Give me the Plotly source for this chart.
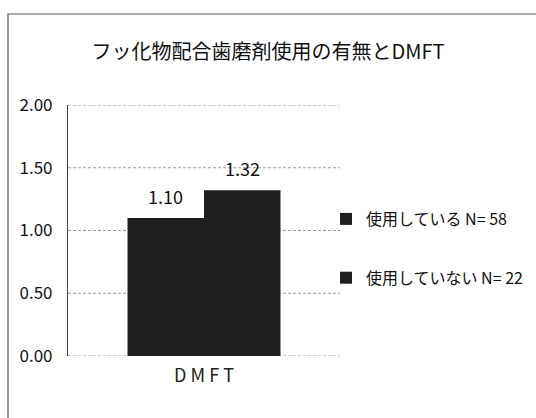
import plotly.graph_objects as go

# DMFT by fluoride toothpaste use
categories = ["DMFT"]
series_names = ["使用している N= 58", "使用していない N= 22"]
series_values = [[1.10], [1.32]]
y_ticks = [0.0, 0.5, 1.0, 1.5, 2.0]
y_tick_labels = ["0.00", "0.50", "1.00", "1.50", "2.00"]
title_text = "フッ化物配合歯磨剤使用の有無とDMFT"

FONT = "Noto Sans CJK JP"
BAR_COLOR = "#1e1e1e"
GRID_COLOR = "#9a9a9a"

W, H = 536, 418
L, R, T, B = 68, 196, 105, 62
PW, PH = W - L - R, H - T - B
BARGAP = 0.4375
N_SERIES = len(series_values)
BAR_PX = PW * (1 - BARGAP) / N_SERIES  # width of one bar in pixels


def px_to_paper_x(px):
    return (px - L) / PW


def px_to_paper_y(py):
    return (H - B - py) / PH


fig = go.Figure()
for i, (name, vals) in enumerate(zip(series_names, series_values)):
    fig.add_trace(go.Bar(
        x=categories,
        y=vals,
        name=name,
        legendgroup=f"g{i}",
        marker=dict(color=BAR_COLOR, line=dict(width=0)),
    ))
    # value label above each bar
    for cat, v in zip(categories, vals):
        fig.add_annotation(
            x=cat, y=v, xref="x", yref="y",
            text=f"{v:.2f}", showarrow=False,
            xshift=(i - (N_SERIES - 1) / 2) * BAR_PX,
            yshift=22, yanchor="middle",
            font=dict(family=FONT, size=18, color="#111"),
        )

# dashed horizontal gridlines at every tick, including both range ends
for v in y_ticks:
    fig.add_shape(type="line", xref="paper", yref="y", x0=0, x1=1, y0=v, y1=v,
                  line=dict(color=GRID_COLOR, width=1, dash="3px,2px"),
                  layer="below")

# Outer chart frame (left and top edges visible in the page)
fig.add_shape(type="rect", xref="paper", yref="paper",
              x0=px_to_paper_x(8), x1=px_to_paper_x(545),
              y0=px_to_paper_y(430), y1=px_to_paper_y(14),
              line=dict(color="#555", width=1.2), layer="below")

fig.update_layout(
    width=W, height=H,
    margin=dict(l=L, r=R, t=T, b=B, autoexpand=False),
    paper_bgcolor="white", plot_bgcolor="white",
    barmode="group", bargap=BARGAP, bargroupgap=0,
    font=dict(family=FONT, color="#111"),
    title=dict(text=title_text, x=0.5, xref="container", xanchor="center",
               y=1 - 52 / H, yref="container", yanchor="middle",
               font=dict(family=FONT, size=20, color="#111")),
    showlegend=True,
    legend=dict(x=px_to_paper_x(326), y=px_to_paper_y(202),
                xanchor="left", yanchor="top",
                tracegroupgap=35, font=dict(family=FONT, size=16, color="#111"),
                itemwidth=30, bgcolor="rgba(0,0,0,0)"),
    xaxis=dict(tickvals=categories, ticktext=["D M F T"],
               tickfont=dict(family=FONT, size=18, color="#222"),
               showline=False, showgrid=False, ticks="", ticklabelstandoff=7),
    yaxis=dict(range=[0, 2.0], tickvals=y_ticks, ticktext=y_tick_labels,
               tickfont=dict(family=FONT, size=17, color="#111"),
               showgrid=False,
               showline=True, linecolor="#444", linewidth=1.2,
               zeroline=False, ticks="", ticklabelstandoff=11),
)

fig.write_html("out.html")
